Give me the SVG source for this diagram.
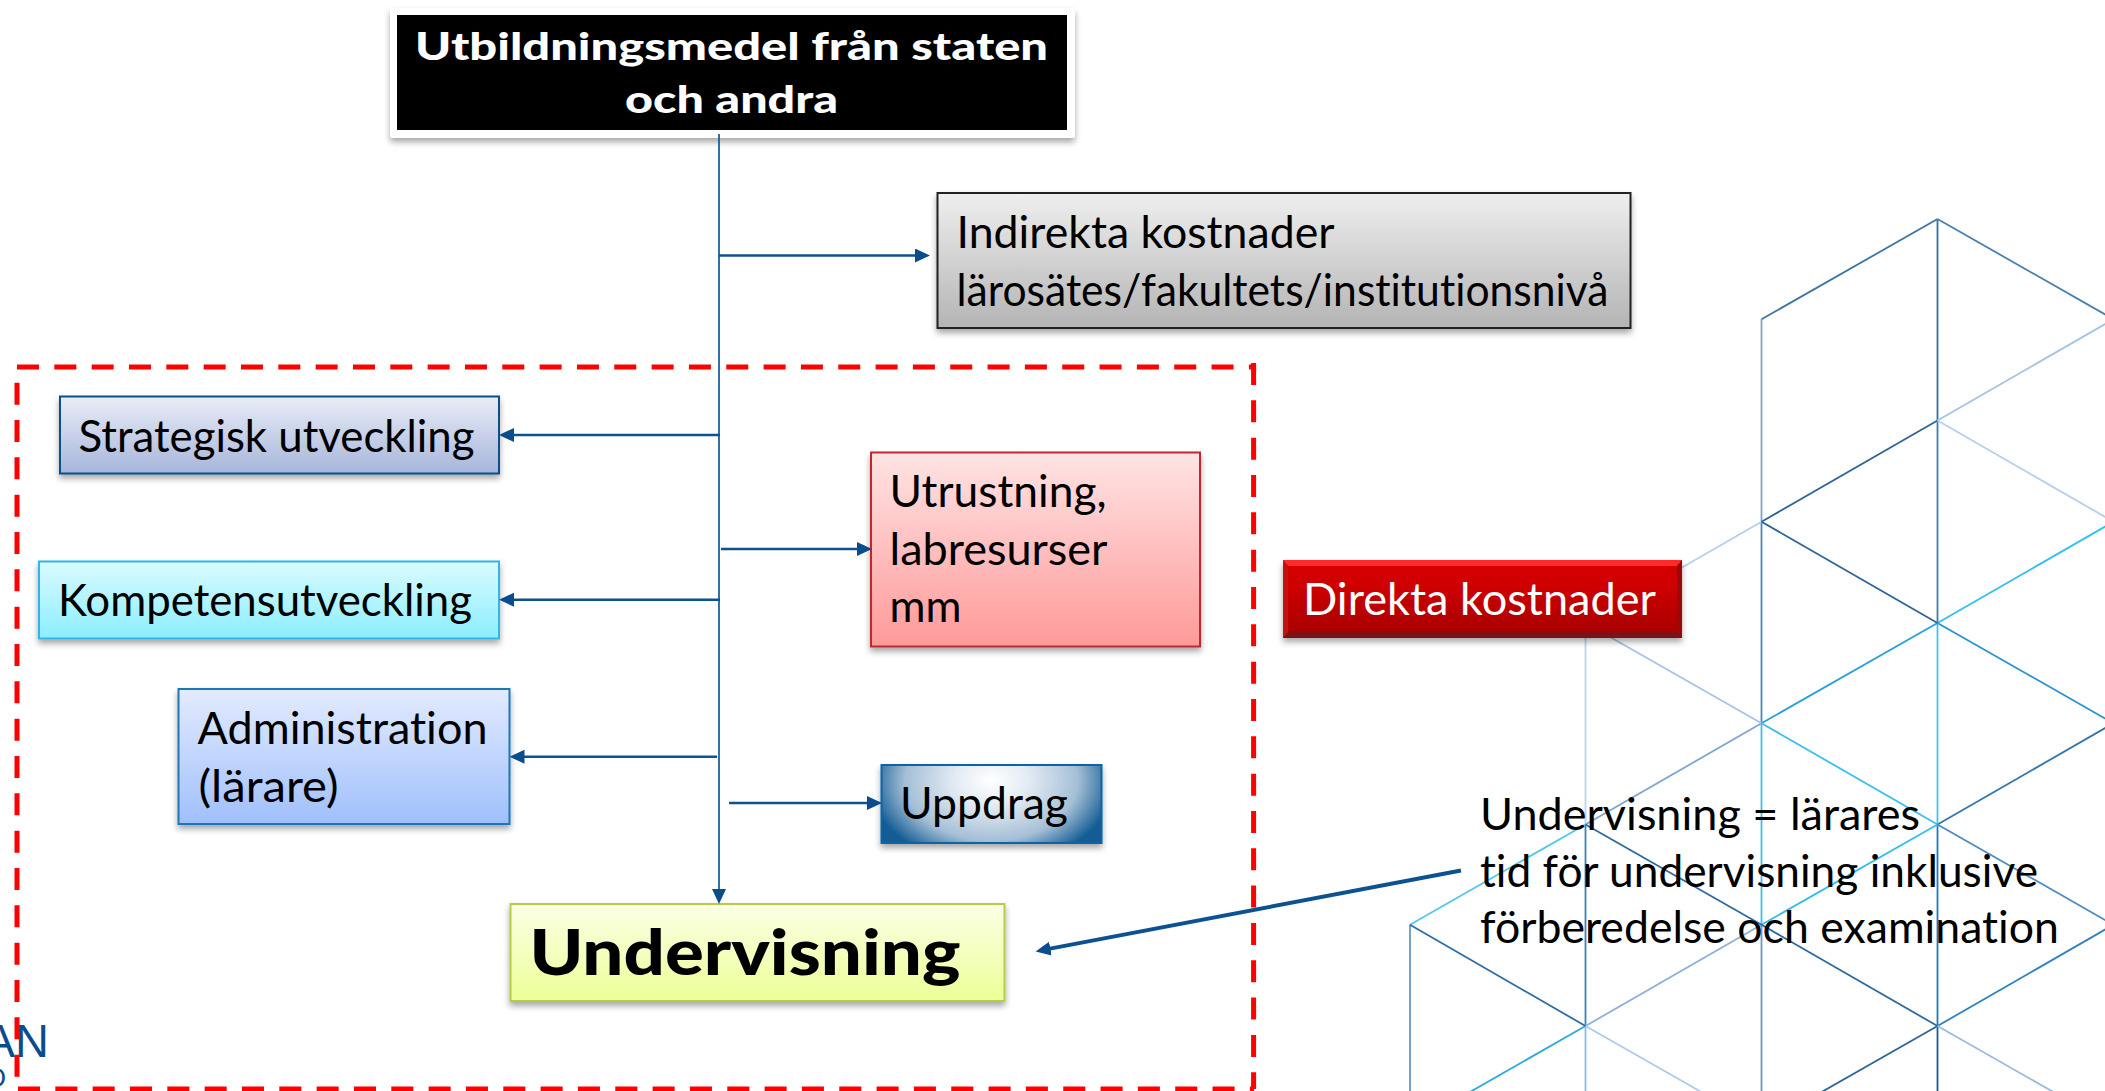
<svg xmlns="http://www.w3.org/2000/svg" width="2105" height="1091" viewBox="0 0 2105 1091">
<style>
text{font-family:"Lato","Liberation Sans",sans-serif;font-size:45px;fill:#000;font-variant-ligatures:none}
.b{font-weight:900}
.w{fill:#fff}
.box{filter:url(#sh)}
.arrow{fill:none;stroke:#0d5290;stroke-width:2.5;marker-end:url(#head)}
.grid line{stroke-width:1.8;fill:none}
</style>
<defs>
<filter id="sh" x="-5%" y="-10%" width="110%" height="125%"><feDropShadow dx="0" dy="4" stdDeviation="3" flood-color="#000" flood-opacity=".35"/></filter>
<marker id="head" markerUnits="userSpaceOnUse" markerWidth="16" markerHeight="16" refX="7" refY="7" orient="auto"><path d="M0 0L15 7L0 14z" fill="#0a4d8c"/></marker>
<linearGradient id="gGray" x1="0" y1="0" x2="0" y2="1"><stop offset="0" stop-color="#efefef"/><stop offset="1" stop-color="#b4b4b4"/></linearGradient>
<linearGradient id="gStrat" x1="0" y1="0" x2="0" y2="1"><stop offset="0" stop-color="#e9edf7"/><stop offset="1" stop-color="#a6b5da"/></linearGradient>
<linearGradient id="gKomp" x1="0" y1="0" x2="0" y2="1"><stop offset="0" stop-color="#dbfbff"/><stop offset="1" stop-color="#8aeeff"/></linearGradient>
<linearGradient id="gAdm" x1="0" y1="0" x2="0" y2="1"><stop offset="0" stop-color="#e3ebff"/><stop offset="1" stop-color="#9fc0fb"/></linearGradient>
<linearGradient id="gUtr" x1="0" y1="0" x2="0" y2="1"><stop offset="0" stop-color="#ffe4e4"/><stop offset="1" stop-color="#ff9999"/></linearGradient>
<linearGradient id="gDir" x1="0" y1="0" x2="0" y2="1"><stop offset="0" stop-color="#d40000"/><stop offset=".3" stop-color="#d00000"/><stop offset="1" stop-color="#a40000"/></linearGradient>
<linearGradient id="gUnd" x1="0" y1="0" x2="0" y2="1"><stop offset="0" stop-color="#fbffe6"/><stop offset="1" stop-color="#ecff96"/></linearGradient>
<radialGradient id="gUpp" cx="0" cy="0" r="1" gradientTransform="translate(.5 .2) scale(.56 1.1)"><stop offset="0" stop-color="#ffffff"/><stop offset=".3" stop-color="#e3ebf3"/><stop offset=".7" stop-color="#a5bfd6"/><stop offset="1" stop-color="#125c94"/></radialGradient>
</defs>
<rect width="2105" height="1091" fill="#fff"/>

<g id="background-lattice" class="grid" transform="matrix(1 0 0 1.0025 .5 -.55)">
<line x1="1761" y1="319" x2="1761" y2="521" stroke="#7fa3c8"/>
<line x1="1761" y1="521" x2="1761" y2="722" stroke="#4f87b5"/>
<line x1="1761" y1="722" x2="1761" y2="922" stroke="#3dbdea"/>
<line x1="1761" y1="922" x2="1761" y2="1091" stroke="#6d97c0"/>
<line x1="1937" y1="219" x2="1937" y2="420" stroke="#336f9f"/>
<line x1="1937" y1="420" x2="1937" y2="622" stroke="#3f7cae"/>
<line x1="1937" y1="622" x2="1937" y2="823" stroke="#3cc3ee"/>
<line x1="1937" y1="823" x2="1937" y2="1024" stroke="#1a7cc4"/>
<line x1="1937" y1="1024" x2="1937" y2="1091" stroke="#0f5ea3"/>
<line x1="1585" y1="622" x2="1585" y2="823" stroke="#bcd4ee"/>
<line x1="1585" y1="823" x2="1585" y2="1024" stroke="#3a84b5"/>
<line x1="1585" y1="1024" x2="1585" y2="1091" stroke="#88bde4"/>
<line x1="1409.5" y1="923" x2="1409.5" y2="1091" stroke="#6f96bf"/>
<line x1="1761" y1="319" x2="1937" y2="219" stroke="#3c75a5"/>
<line x1="1761" y1="521" x2="1937" y2="420" stroke="#2f6496"/>
<line x1="1937" y1="420" x2="2113" y2="319" stroke="#a4c3e5"/>
<line x1="1585" y1="622" x2="1761" y2="521" stroke="#b5cfee"/>
<line x1="1761" y1="722" x2="1937" y2="622" stroke="#2aa0d8"/>
<line x1="1937" y1="622" x2="2113" y2="521" stroke="#33bff0"/>
<line x1="1585" y1="823" x2="1761" y2="722" stroke="#7ea6d0"/>
<line x1="1761" y1="923" x2="1937" y2="823" stroke="#33bdec"/>
<line x1="1937" y1="823" x2="2113" y2="722" stroke="#3276ad"/>
<line x1="1409.5" y1="923" x2="1585" y2="823" stroke="#55c6ee"/>
<line x1="1585" y1="1024" x2="1761" y2="923" stroke="#8cb0dc"/>
<line x1="1761" y1="1124" x2="1937" y2="1024" stroke="#2e649c"/>
<line x1="1937" y1="1024" x2="2113" y2="923" stroke="#2f82bf"/>
<line x1="1409.5" y1="1124" x2="1585" y2="1024" stroke="#2baadb"/>
<line x1="1937" y1="219" x2="2113" y2="319" stroke="#4b80ad"/>
<line x1="1761" y1="521" x2="1937" y2="622" stroke="#2f6496"/>
<line x1="1937" y1="420" x2="2113" y2="521" stroke="#b5cfee"/>
<line x1="1585" y1="622" x2="1761" y2="722" stroke="#a6c3e8"/>
<line x1="1761" y1="722" x2="1937" y2="823" stroke="#3cbfee"/>
<line x1="1937" y1="622" x2="2113" y2="722" stroke="#2c93cf"/>
<line x1="1585" y1="823" x2="1761" y2="923" stroke="#2f6a9f"/>
<line x1="1937" y1="823" x2="2113" y2="923" stroke="#4f8ac0"/>
<line x1="1409.5" y1="923" x2="1585" y2="1024" stroke="#2d6da5"/>
<line x1="1761" y1="923" x2="1937" y2="1024" stroke="#2f6a9f"/>
<line x1="1585" y1="1024" x2="1761" y2="1124" stroke="#aecbee"/>
<line x1="1937" y1="1024" x2="2113" y2="1124" stroke="#9dbbe0"/>
</g>

<g id="logo-fragment">
<text x="49" y="1057" text-anchor="end" style="font-size:47px;fill:#0a4d8c;font-family:'Liberation Sans',sans-serif">AN</text>
<text x="6" y="1087" text-anchor="end" style="font-size:27px;fill:#0a4d8c;font-family:'Liberation Sans',sans-serif">O</text>
</g>

<g id="scope-frame"><path d="M17 367H1254M17 382.7V1089M1253.6 363V1089M18 1089H1254" fill="none" stroke="#ff0000" stroke-width="5" stroke-dasharray="22 15.33"/></g>

<g id="node-funding">
<rect x="390" y="8" width="685" height="130" rx="3" fill="#fff" class="box"/>
<rect x="397" y="15" width="670" height="115" fill="#000"/>
<text x="415" y="60" class="b w" textLength="633" lengthAdjust="spacingAndGlyphs" style="font-size:38px">Utbildningsmedel från staten</text>
<text x="625" y="113" class="b w" textLength="213" lengthAdjust="spacingAndGlyphs" style="font-size:38px">och andra</text>
</g>

<g id="node-indirekta">
<rect x="937.500" y="193" width="693" height="135" fill="url(#gGray)" stroke="#222" stroke-width="2" class="box"/>
<text x="956.500" y="248" textLength="378" lengthAdjust="spacingAndGlyphs">Indirekta kostnader</text>
<text x="956.500" y="306" textLength="652" lengthAdjust="spacingAndGlyphs">lärosätes/fakultets/institutionsnivå</text>
</g>

<g id="node-strategisk">
<rect x="60" y="396.500" width="439" height="77" fill="url(#gStrat)" stroke="#0d4f8b" stroke-width="2" class="box"/>
<text x="78.500" y="452" textLength="396" lengthAdjust="spacingAndGlyphs">Strategisk utveckling</text>
</g>

<g id="node-kompetens">
<rect x="39" y="561.500" width="460" height="77" fill="url(#gKomp)" stroke="#2fb7e8" stroke-width="2" class="box"/>
<text x="58" y="616" textLength="414" lengthAdjust="spacingAndGlyphs">Kompetensutveckling</text>
</g>

<g id="node-administration">
<rect x="178.500" y="689" width="331" height="135" fill="url(#gAdm)" stroke="#1f77b8" stroke-width="2" class="box"/>
<text x="197.500" y="744" textLength="290" lengthAdjust="spacingAndGlyphs">Administration</text>
<text x="198.500" y="802" textLength="140" lengthAdjust="spacingAndGlyphs">(lärare)</text>
</g>

<g id="node-utrustning">
<rect x="871" y="452.500" width="329" height="194" fill="url(#gUtr)" stroke="#c4282e" stroke-width="2" class="box"/>
<text x="889.500" y="507" textLength="217" lengthAdjust="spacingAndGlyphs">Utrustning,</text>
<text x="889.500" y="565" textLength="218" lengthAdjust="spacingAndGlyphs">labresurser</text>
<text x="889.500" y="622" textLength="72" lengthAdjust="spacingAndGlyphs">mm</text>
</g>

<g id="node-direkta">
<rect x="1283" y="560" width="399" height="78" fill="url(#gDir)" class="box"/>
<path d="M1283 560H1682L1677 566H1288z" fill="#ff2b2b"/>
<path d="M1283 638H1682L1677 632H1288z" fill="#7e1212"/>
<path d="M1283 560L1288 566V632L1283 638z" fill="#c81010"/>
<path d="M1682 560L1677 566V632L1682 638z" fill="#9a0808"/>
<text x="1303" y="615" class="w" textLength="353" lengthAdjust="spacingAndGlyphs">Direkta kostnader</text>
</g>

<g id="node-uppdrag">
<rect x="881.500" y="765" width="220" height="78" fill="url(#gUpp)" stroke="#0b64a8" stroke-width="2" class="box"/>
<text x="900" y="819" textLength="168" lengthAdjust="spacingAndGlyphs">Uppdrag</text>
</g>

<g id="node-undervisning">
<rect x="510.500" y="904" width="494" height="97" fill="url(#gUnd)" stroke="#b5cc45" stroke-width="2" class="box"/>
<text x="529.500" y="975" class="b" textLength="431" lengthAdjust="spacingAndGlyphs" style="font-size:62px">Undervisning</text>
</g>

<g id="note">
<text x="1480" y="829.500" textLength="440" lengthAdjust="spacingAndGlyphs">Undervisning = lärares</text>
<text x="1480" y="886.500" textLength="558" lengthAdjust="spacingAndGlyphs">tid för undervisning inklusive</text>
<text x="1480" y="942.500" textLength="579" lengthAdjust="spacingAndGlyphs">förberedelse och examination</text>
</g>

<g id="connectors">
<line x1="719" y1="134" x2="719" y2="896" class="arrow" style="stroke-width:1.8;stroke:#1f5f9e"/>
<line x1="719" y1="255.500" x2="922" y2="255.500" class="arrow"/>
<line x1="720" y1="435" x2="507" y2="435" class="arrow"/>
<line x1="720" y1="599.700" x2="507" y2="599.700" class="arrow"/>
<line x1="717" y1="756.700" x2="517.500" y2="756.700" class="arrow"/>
<line x1="721" y1="549" x2="864" y2="549" class="arrow"/>
<line x1="729" y1="803" x2="874" y2="803" class="arrow"/>
<line x1="1461" y1="870.500" x2="1043.500" y2="949.900" class="arrow" style="stroke-width:4"/>
</g>
</svg>
